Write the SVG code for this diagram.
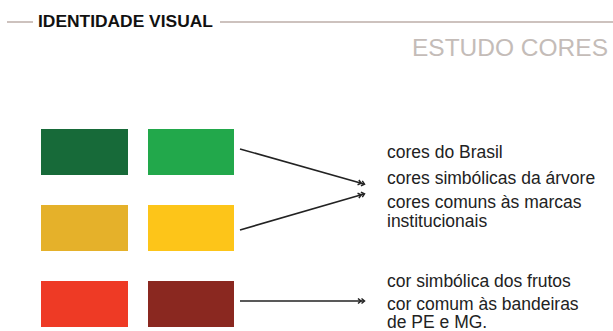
<svg xmlns="http://www.w3.org/2000/svg" width="613" height="331" viewBox="0 0 613 331">
<style>
.t{font-family:"Liberation Sans",Arial,sans-serif;font-size:17.5px;fill:#222}
.c{stroke:#222;stroke-width:1.6;fill:none}
</style>
<defs>
<marker id="dbl" markerUnits="userSpaceOnUse" markerWidth="10" markerHeight="8" refX="7" refY="3" orient="auto" viewBox="0 0 10 6">
<path d="M1,0.5 L4,3 L1,5.5 M4.5,0.5 L7.5,3 L4.5,5.5" stroke="#222" stroke-width="1.5" fill="none"/>
</marker>
</defs>
<rect width="613" height="331" fill="#fff"/>
<g id="header">
<line x1="7" y1="22" x2="33" y2="22" stroke="#bcaea8" stroke-width="1.5"/>
<line x1="220" y1="22" x2="613" y2="22" stroke="#bcaea8" stroke-width="1.5"/>
<text x="38" y="27" font-family="'Liberation Sans',Arial,sans-serif" font-weight="bold" font-size="17.4" fill="#111">IDENTIDADE VISUAL</text>
<text x="608" y="56" text-anchor="end" font-family="'Liberation Sans',Arial,sans-serif" font-size="24.5" fill="#c4bcb8">ESTUDO CORES</text>
</g>
<g id="swatch-dark-green"><rect x="41" y="129" width="87" height="46" fill="#176a39"/></g>
<g id="swatch-green"><rect x="148" y="129" width="86" height="46" fill="#22a84b"/></g>
<g id="swatch-gold"><rect x="41" y="205" width="87" height="46" fill="#e5b12a"/></g>
<g id="swatch-yellow"><rect x="148" y="205" width="86" height="46" fill="#fdc519"/></g>
<g id="swatch-red"><rect x="41" y="281" width="87" height="46" fill="#ee3a25"/></g>
<g id="swatch-maroon"><rect x="148" y="281" width="86" height="46" fill="#8a2820"/></g>
<g id="connectors">
<line class="c" x1="240" y1="149" x2="364" y2="184" marker-end="url(#dbl)"/>
<line class="c" x1="240" y1="230" x2="364" y2="194" marker-end="url(#dbl)"/>
<line class="c" x1="240" y1="301" x2="364" y2="301" marker-end="url(#dbl)"/>
</g>
<g id="label-upper">
<text class="t" x="387" y="158">cores do Brasil</text>
<text class="t" x="387" y="184">cores simbólicas da árvore</text>
<text class="t" x="387" y="208">cores comuns às marcas</text>
<text class="t" x="387" y="227">institucionais</text>
</g>
<g id="label-lower">
<text class="t" x="387" y="287">cor simbólica dos frutos</text>
<text class="t" x="387" y="309.5">cor comum às bandeiras</text>
<text class="t" x="387" y="328">de PE e MG.</text>
</g>
</svg>
